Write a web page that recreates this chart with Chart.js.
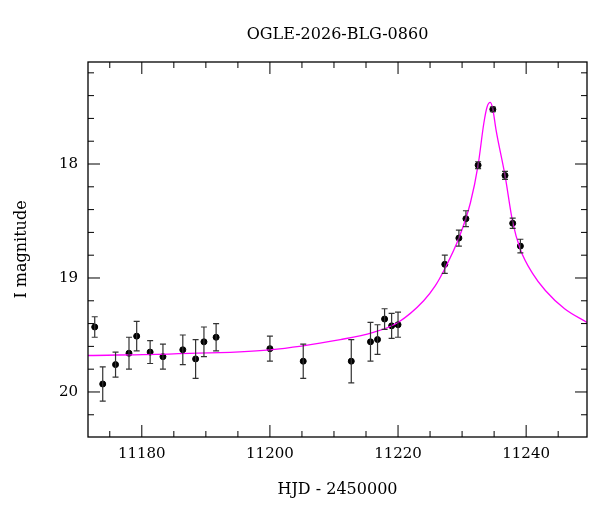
<!DOCTYPE html>
<html>
<head>
<meta charset="utf-8">
<script src="https://cdn.jsdelivr.net/npm/chart.js@4"></script>
<style>
body { margin: 0; background: #fff; }
#wrap { width: 600px; height: 512px; }
</style>
</head>
<body>
<div id="wrap"><canvas id="chart"></canvas></div>
<script>
const ctx = document.querySelector('#chart');

// photometry: [HJD-2450000, I mag, error]
const obs = [
    [11172.65, 19.43, 0.09], [11173.9, 19.93, 0.15], [11175.9, 19.76, 0.11],
    [11178.0, 19.66, 0.14], [11179.2, 19.51, 0.13], [11181.3, 19.65, 0.10],
    [11183.3, 19.69, 0.11], [11186.4, 19.63, 0.13], [11188.4, 19.71, 0.17],
    [11189.7, 19.56, 0.13], [11191.6, 19.52, 0.12], [11200.0, 19.62, 0.11],
    [11205.2, 19.73, 0.15], [11212.7, 19.73, 0.19], [11215.7, 19.56, 0.17],
    [11216.8, 19.54, 0.13], [11217.9, 19.36, 0.09], [11219.0, 19.42, 0.11],
    [11220.0, 19.41, 0.11], [11227.3, 18.88, 0.08], [11229.5, 18.65, 0.07],
    [11230.6, 18.48, 0.07], [11232.5, 18.01, 0.03], [11234.8, 17.52, 0.02],
    [11236.7, 18.10, 0.035], [11237.9, 18.52, 0.045], [11239.1, 18.72, 0.06]
];

// model curve
const model = [
    [11171.6, 19.68], [11185, 19.665], [11200, 19.63], [11211, 19.54],
    [11216, 19.48], [11220, 19.39], [11224, 19.20], [11225.8, 19.07], [11227.2, 18.93],
    [11229.5, 18.65], [11231.3, 18.34], [11232.5, 18.01], [11233.4, 17.64],
    [11233.9, 17.50], [11234.4, 17.46], [11234.8, 17.52], [11235.3, 17.70],
    [11236.7, 18.10], [11237.9, 18.51], [11239.1, 18.75], [11241, 18.96],
    [11243, 19.11], [11246, 19.27], [11249.5, 19.39]
];

const XMIN = 11171.6, XMAX = 11249.5, YMIN = 17.105, YMAX = 20.395;
const FONT = '"DejaVu Serif", "Liberation Serif", serif';

const frame = {
    id: 'frame',
    afterDatasetsDraw(chart) {
        const c = chart.ctx, a = chart.chartArea;
        const xs = chart.scales.x, ys = chart.scales.y;
        c.save();
        // error bars
        c.strokeStyle = '#333';
        c.lineWidth = 1.2;
        obs.forEach(function(p) {
            const px = xs.getPixelForValue(p[0]);
            const y1 = ys.getPixelForValue(p[1] - p[2]);
            const y2 = ys.getPixelForValue(p[1] + p[2]);
            c.beginPath();
            c.moveTo(px, y1); c.lineTo(px, y2);
            c.moveTo(px - 3, y1); c.lineTo(px + 3, y1);
            c.moveTo(px - 3, y2); c.lineTo(px + 3, y2);
            c.stroke();
        });
        // box
        c.strokeStyle = '#000';
        c.lineWidth = 1.3;
        c.strokeRect(a.left, a.top, a.right - a.left, a.bottom - a.top);
        c.lineWidth = 1;
        c.beginPath();
        for (let v = 11175; v <= 11245; v += 5) {
            const px = xs.getPixelForValue(v);
            const len = v % 20 === 0 ? 12 : 6;
            c.moveTo(px, a.bottom); c.lineTo(px, a.bottom - len);
            c.moveTo(px, a.top); c.lineTo(px, a.top + len);
        }
        for (let i = 172; i <= 202; i += 2) {
            const py = ys.getPixelForValue(i / 10);
            const len = i % 10 === 0 ? 12 : 6;
            c.moveTo(a.left, py); c.lineTo(a.left + len, py);
            c.moveTo(a.right, py); c.lineTo(a.right - len, py);
        }
        c.stroke();
        // labels
        c.fillStyle = '#000';
        c.font = '15px ' + FONT;
        c.textAlign = 'center';
        c.textBaseline = 'top';
        for (let v = 11180; v <= 11240; v += 20) {
            c.fillText(String(v), xs.getPixelForValue(v), a.bottom + 10);
        }
        c.textAlign = 'right';
        c.textBaseline = 'middle';
        [18, 19, 20].forEach(function(v) {
            c.fillText(String(v), a.left - 10, ys.getPixelForValue(v));
        });
        c.font = '16px ' + FONT;
        c.textAlign = 'center';
        c.fillText('HJD - 2450000', (a.left + a.right) / 2, 490);
        c.fillText('OGLE-2026-BLG-0860', (a.left + a.right) / 2, 35);
        c.translate(22, (a.top + a.bottom) / 2);
        c.rotate(-Math.PI / 2);
        c.fillText('I magnitude', 0, 0);
        c.restore();
    }
};

const chart = new Chart(ctx.getContext('2d'), {
    type: 'scatter',
    data: {
        datasets: [
            {
                label: 'model',
                data: model.map(function(p) { return {x: p[0], y: p[1]}; }),
                showLine: true,
                borderColor: '#ff00ff',
                borderWidth: 1.3,
                pointRadius: 0,
                cubicInterpolationMode: 'monotone',
                clip: 0
            },
            {
                label: 'OGLE',
                data: obs.map(function(p) { return {x: p[0], y: p[1]}; }),
                backgroundColor: '#000',
                borderColor: '#000',
                pointRadius: 3
            }
        ]
    },
    options: {
        responsive: true,
        maintainAspectRatio: false,
        animation: false,
        layout: { padding: { left: 88, right: 13, top: 62, bottom: 75 } },
        scales: {
            x: { type: 'linear', min: XMIN, max: XMAX, display: false },
            y: { type: 'linear', min: YMIN, max: YMAX, reverse: true, display: false }
        },
        plugins: {
            legend: { display: false },
            tooltip: { enabled: false }
        }
    },
    plugins: [frame]
});
</script>
</body>
</html>
